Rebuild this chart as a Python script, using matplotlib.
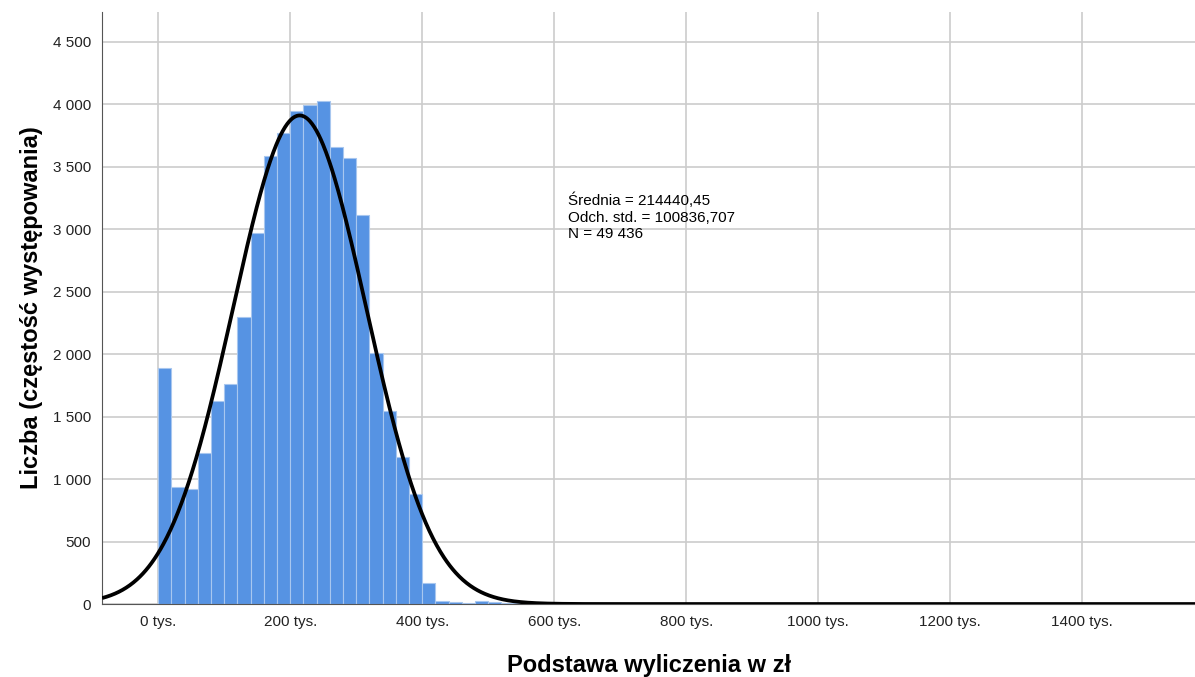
import numpy as np
import matplotlib
matplotlib.use("Agg")
import matplotlib.pyplot as plt
from matplotlib.ticker import FuncFormatter

plt.rcParams['font.family'] = ['Liberation Sans', 'DejaVu Sans']

# histogram bins (left edges, zl) and counts
bin_width = 20000
bin_left = np.arange(0, 580000, bin_width)
counts = [1887, 934, 918, 1206, 1625, 1761, 2300, 2973, 3590, 3774,
          3947, 3998, 4030, 3661, 3571, 3117, 2007, 1548, 1180, 878,
          165, 27, 20, 12, 25, 15, 8, 5, 3]

mean = 214440.45
std = 100836.707
n_total = 49436

stats_lines = ["Średnia = 214440,45", "Odch. std. = 100836,707", "N = 49 436"]
x_ticks = [0, 200000, 400000, 600000, 800000, 1000000, 1200000, 1400000]
y_ticks = [0, 500, 1000, 1500, 2000, 2500, 3000, 3500, 4000, 4500]

fig = plt.figure(figsize=(11.95, 6.77), dpi=100)
ax = fig.add_axes([0.0854, 0.1078, 0.9146, 0.8745])

ax.bar(bin_left, counts, width=bin_width, align='edge',
       color='#5693e3', edgecolor='#a8c7ef', linewidth=0.8, zorder=2)

# fitted normal curve
xs = np.linspace(-85000, 1571000, 1500)
ys = n_total * bin_width / (std * np.sqrt(2 * np.pi)) * np.exp(-0.5 * ((xs - mean) / std) ** 2)
ax.plot(xs, ys, color='black', linewidth=2.7, zorder=3, solid_capstyle='butt')

ax.set_xlim(-85000, 1571000)
ax.set_ylim(0, 4740)
ax.set_xticks(x_ticks)
ax.set_yticks(y_ticks)
ax.xaxis.set_major_formatter(FuncFormatter(lambda v, p: '%d tys.' % round(v / 1000)))
ax.yaxis.set_major_formatter(FuncFormatter(lambda v, p: '{:,}'.format(int(v)).replace(',', ' ')))
ax.tick_params(axis='both', length=0, labelsize=11, colors='#222222')
ax.tick_params(axis='y', pad=8)
ax.tick_params(axis='x', pad=8)

ax.grid(True, color='#cccccc', linewidth=1.2, zorder=0)
ax.set_axisbelow(True)
for s in ['top', 'right']:
    ax.spines[s].set_visible(False)
ax.spines['left'].set_color('#555555')
ax.spines['bottom'].set_color('#555555')

ax.text(621000, 3295, "\n".join(stats_lines), fontsize=11, va='top', ha='left',
        linespacing=1.25, zorder=4)

ax.set_xlabel("Podstawa wyliczenia w zł", fontsize=17, fontweight='bold', labelpad=18)
ax.set_ylabel("Liczba (częstość występowania)", fontsize=17, fontweight='bold', labelpad=7)

fig.savefig("out.png", dpi=100)
